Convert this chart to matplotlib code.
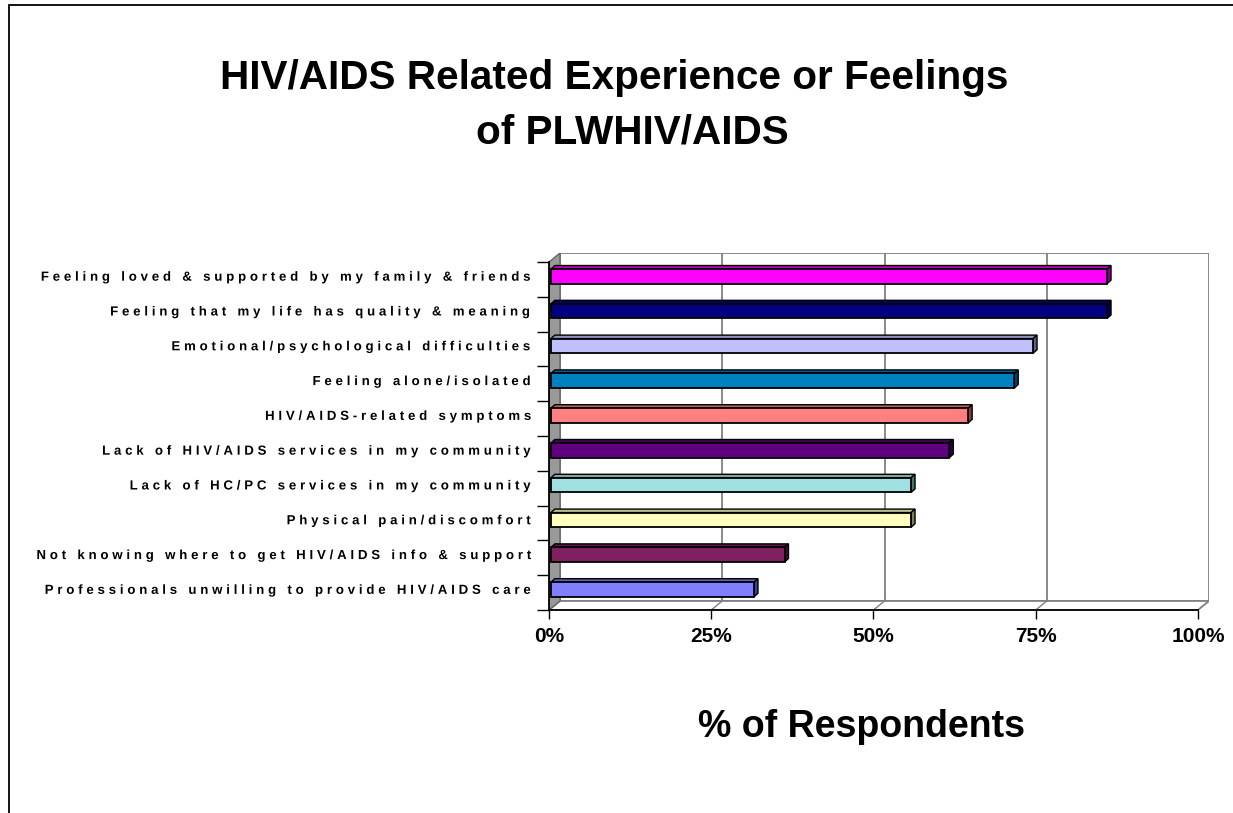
import numpy as np
import matplotlib
matplotlib.use("Agg")
import matplotlib.pyplot as plt
import matplotlib.patheffects as pe
from matplotlib.path import Path
from matplotlib.patches import Polygon, Rectangle
from matplotlib.textpath import TextToPath, text_to_path
from matplotlib.font_manager import FontProperties, findfont, get_font
from matplotlib.transforms import ScaledTranslation
from matplotlib.colors import to_rgb

# ---- data (top row first) ----
categories = [
    "Feeling loved & supported by my family & friends",
    "Feeling that my life has quality & meaning",
    "Emotional/psychological difficulties",
    "Feeling alone/isolated",
    "HIV/AIDS-related symptoms",
    "Lack of HIV/AIDS services in my community",
    "Lack of HC/PC services in my community",
    "Physical pain/discomfort",
    "Not knowing where to get HIV/AIDS info & support",
    "Professionals unwilling to provide HIV/AIDS care",
]
percent_respondents = [85.7, 85.7, 74.3, 71.4, 64.3, 61.4, 55.5, 55.5, 36.0, 31.3]
bar_colors = ["#FF00FF", "#000080", "#C0C0FF", "#0080C0", "#FF8080",
              "#600080", "#A0E0E0", "#FFFFC0", "#802060", "#8080FF"]
tick_values = [0, 25, 50, 75, 100]
tick_labels = ["0%", "25%", "50%", "75%", "100%"]
title_lines = ["HIV/AIDS Related Experience or Feelings", "of PLWHIV/AIDS"]
x_title = "% of Respondents"

FONT = ["Liberation Sans", "DejaVu Sans"]
W, H = 1233, 813


class LetterSpacing(pe.AbstractPathEffect):
    """Spread the glyphs of a right-aligned string apart by a fixed gap."""

    def __init__(self, text, prop, gap_pt):
        super().__init__()
        font = get_font(findfont(prop))
        font.set_size(TextToPath.FONT_SCALE, TextToPath.DPI)
        glyphs, _, _ = text_to_path.get_glyphs_with_font(font, text)
        self._starts = np.array([g[1] for g in glyphs], dtype=float)
        self._gap = gap_pt

    def draw_path(self, renderer, gc, tpath, affine, rgbFace=None):
        verts = np.array(tpath.vertices, dtype=float)
        codes = tpath.codes
        if codes is None or len(self._starts) == 0:
            renderer.draw_path(gc, tpath, affine, rgbFace)
            return
        scale = abs(affine.get_matrix()[0, 0])
        gap = renderer.points_to_pixels(self._gap) / scale
        n = len(self._starts)
        moves = list(np.flatnonzero(codes == Path.MOVETO)) + [len(codes)]
        for a, b in zip(moves[:-1], moves[1:]):
            keep = codes[a:b] != Path.CLOSEPOLY
            xs = verts[a:b][keep, 0]
            if xs.size == 0:
                continue
            cx = 0.5 * (xs.min() + xs.max())
            idx = max(int(np.searchsorted(self._starts, cx, side="right")) - 1, 0)
            verts[a:b, 0] += (idx - (n - 1)) * gap
        renderer.draw_path(gc, Path(verts, codes), affine, rgbFace)


def shade(color, k):
    r, g, b = to_rgb(color)
    return (r * k, g * k, b * k)


fig = plt.figure(figsize=(W / 100, H / 100), dpi=100)
fig.patch.set_facecolor("white")

# outer chart frame
fig.add_artist(Rectangle((9 / W, -0.1), 1.5, 1 - 5 / H + 0.1, transform=fig.transFigure,
                         fill=False, edgecolor="black", linewidth=1.3))

# plot box: front 0% at x=549, back 100% at x=1208, back top y=253, front floor y=610
ax = fig.add_axes([549 / W, 1 - 610 / H, (1209 - 549) / W, (610 - 253) / H])
ax.set_facecolor("none")
OX = 100 * 11 / 648      # depth offset along x (percent units)
OY = 0.26                # depth offset along y (category units)
n = len(categories)
ax.set_xlim(0, 100 + OX)
ax.set_ylim(n, -OY)

grid_c = "#808080"
# back wall
ax.add_patch(Rectangle((OX, -OY), 100, n, facecolor="white", edgecolor=grid_c,
                       linewidth=1.3, zorder=1))
# floor
ax.add_patch(Polygon([(0, n), (100, n), (100 + OX, n - OY), (OX, n - OY)],
                     closed=True, facecolor="white", edgecolor=grid_c, linewidth=1.3, zorder=1))
for v in tick_values[1:-1]:
    ax.plot([v + OX, v + OX], [-OY, n - OY], color=grid_c, linewidth=1.3, zorder=2)
    ax.plot([v + OX, v], [n - OY, n], color=grid_c, linewidth=1.0, zorder=2)
# left side wall
ax.add_patch(Polygon([(0, 0), (OX, -OY), (OX, n - OY), (0, n)], closed=True,
                     facecolor="#999999", edgecolor="#666666", linewidth=1.0, zorder=3))

# bars with 3-D faces
BX = 0.3                 # bar set-back from the front plane
bdx, bdy = 0.6, 0.1      # bar depth
y_top = np.arange(n) + 0.2
bar_h = 0.42
ax.barh(y_top + bar_h / 2, percent_respondents, height=bar_h, left=BX,
        color=bar_colors, edgecolor="black", linewidth=1.3, zorder=6)
for yt, v, c in zip(y_top, percent_respondents, bar_colors):
    x1 = BX + v
    ax.add_patch(Polygon([(BX, yt), (x1, yt), (x1 + bdx, yt - bdy), (BX + bdx, yt - bdy)],
                         closed=True, facecolor=shade(c, 0.75), edgecolor="black",
                         linewidth=1.0, zorder=5))
    ax.add_patch(Polygon([(x1, yt), (x1 + bdx, yt - bdy), (x1 + bdx, yt + bar_h - bdy),
                          (x1, yt + bar_h)], closed=True, facecolor=shade(c, 0.5),
                         edgecolor="black", linewidth=1.0, zorder=5))

# axes lines and ticks
for side in ("top", "right"):
    ax.spines[side].set_visible(False)
ax.spines["left"].set_bounds(0, n)
ax.spines["bottom"].set_bounds(0, 100)
for side in ("left", "bottom"):
    ax.spines[side].set_color("black")
    ax.spines[side].set_linewidth(1.3)
    ax.spines[side].set_zorder(7)

ax.set_yticks(np.arange(n + 1))
ax.set_yticklabels([])
ax.tick_params(axis="y", length=8.6, width=1.0, color="black", direction="out")
ax.set_xticks(tick_values)
ax.set_xticklabels(tick_labels, fontsize=15, fontweight="bold", family=FONT)
ax.tick_params(axis="x", length=6.5, width=1.0, color="black", direction="out", pad=6)

# category labels, widely tracked
lab_prop = FontProperties(family=FONT, weight="bold", size=9.5)
lab_tr = ax.transData + ScaledTranslation(-18 / 100, 0, fig.dpi_scale_trans)
for i, name in enumerate(categories):
    t = ax.text(0, i + 0.45, name, transform=lab_tr, ha="right", va="center",
                fontproperties=lab_prop, color="black")
    t.set_path_effects([LetterSpacing(name, lab_prop, 2.75)])

# titles
fig.text(614 / W, 1 - 89 / H, title_lines[0], ha="center", va="baseline",
         fontsize=29.2, fontweight="bold", family=FONT)
fig.text(632 / W, 1 - 144 / H, title_lines[1], ha="center", va="baseline",
         fontsize=29.2, fontweight="bold", family=FONT)
fig.text(862 / W, 1 - 737 / H, x_title, ha="center", va="baseline",
         fontsize=27, fontweight="bold", family=FONT)

fig.savefig("out.png", dpi=100, facecolor="white")
